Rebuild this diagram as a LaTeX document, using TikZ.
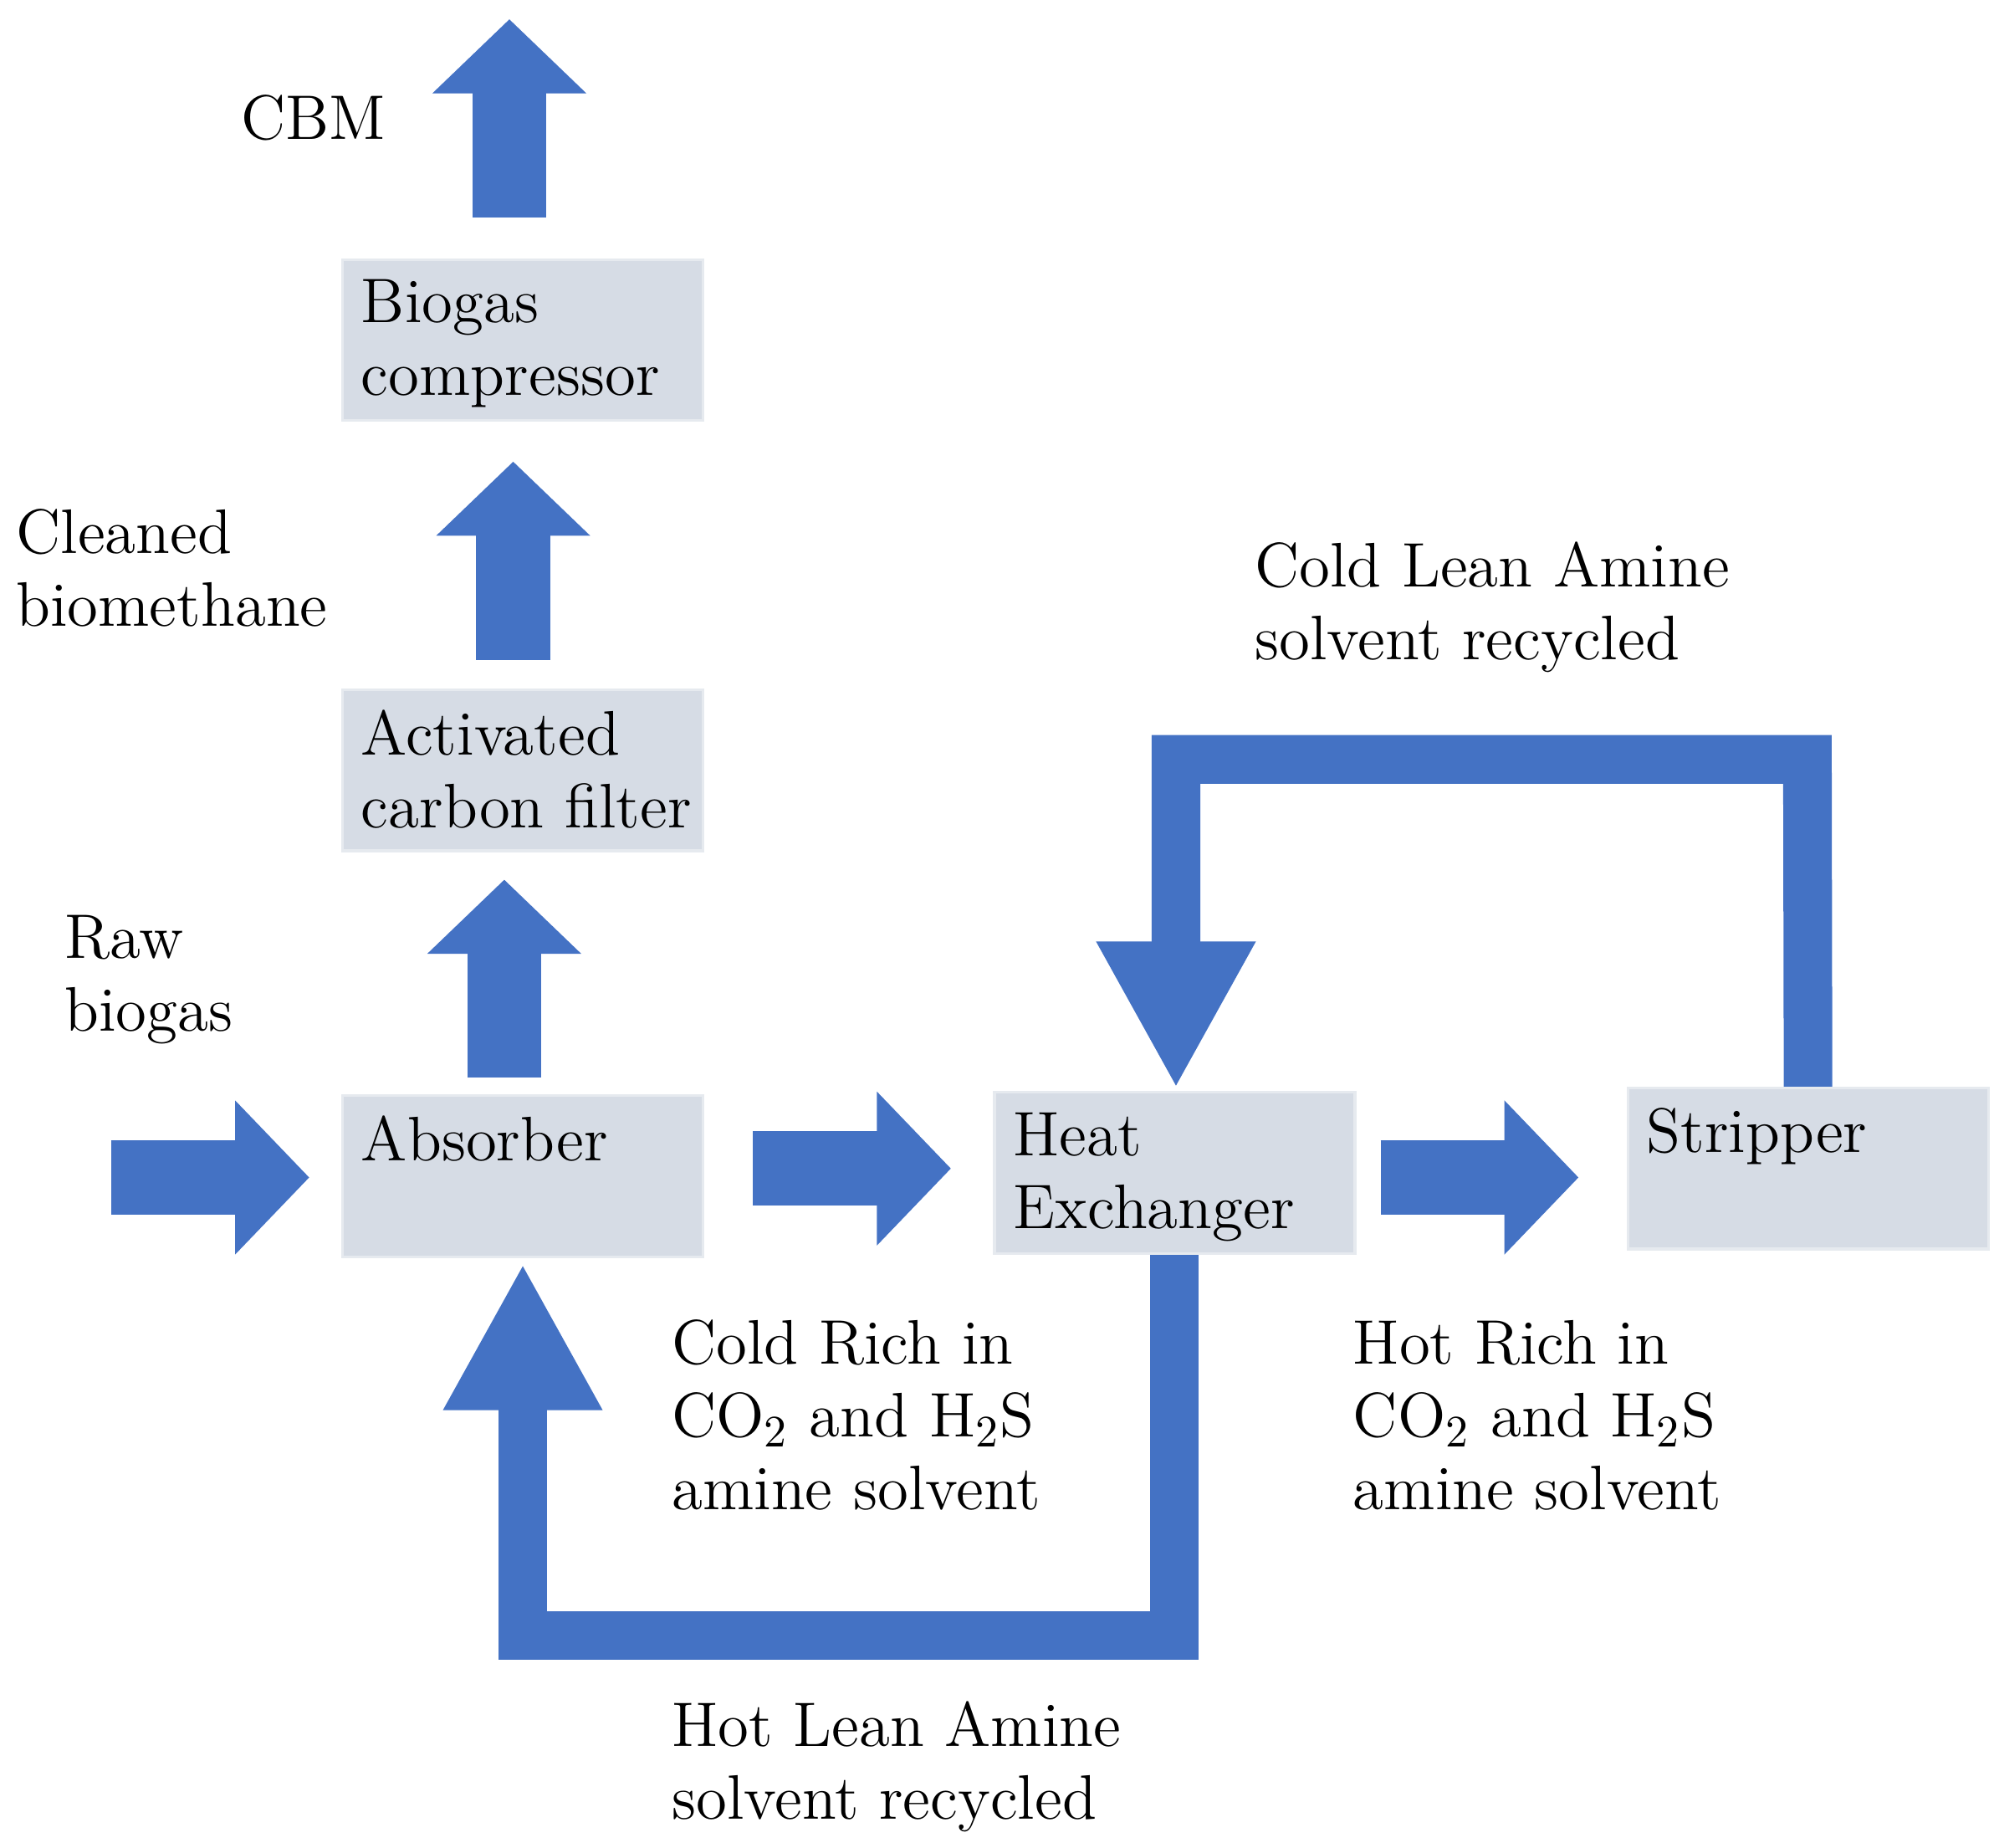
\documentclass[tikz,border=0pt]{standalone}
\usetikzlibrary{arrows.meta,positioning,calc}
\definecolor{flowblue}{HTML}{4472C4}
\definecolor{boxfill}{HTML}{D6DCE5}
\tikzset{
  unit/.style={draw=boxfill!60!white, line width=0.6pt, fill=boxfill, minimum width=2.82cm, minimum height=1.26cm, inner sep=0pt},
  utext/.style={anchor=north west, align=left, inner sep=0pt, font=\fontsize{14}{16.2}\selectfont},
  lbl/.style={anchor=west, align=left, inner sep=0pt, font=\fontsize{14}{16.2}\selectfont},
  fat/.style={draw=flowblue, line width=0.58cm, -{Triangle[width=11.7mm, length=5.8mm]}},
  pipe/.style={draw=flowblue, line width=0.38cm, line join=miter, -{Triangle[width=11.6mm, length=11.5mm]}}
}
\begin{document}
\begin{tikzpicture}[x=1cm,y=1cm]
  \useasboundingbox (0,0) rectangle (15.6,14.45);

  % Units
  \node[unit] (comp) at (4.09,11.79) {};
  \node[unit] (filt) at (4.09,8.425) {};
  \node[unit] (abs)  at (4.09,5.25) {};
  \node[unit] (hex)  at (9.19,5.275) {};
  \node[unit] (strp) at (14.145,5.31) {};
  \node[utext] at ($(comp.north west)+(0.15,-0.16)$) {Biogas\\compressor};
  \node[utext] at ($(filt.north west)+(0.15,-0.16)$) {Activated\\carbon filter};
  \node[utext] at ($(abs.north west)+(0.15,-0.16)$) {Absorber};
  \node[utext] at ($(hex.north west)+(0.15,-0.16)$) {Heat\\Exchanger};
  \node[utext] at ($(strp.north west)+(0.15,-0.16)$) {Stripper};

  % Free ends
  \coordinate (cbm0) at (3.985,12.75);  \coordinate (cbm1) at (3.985,14.30);
  \coordinate (cln0) at (4.015,9.29);   \coordinate (cln1) at (4.015,10.84);
  \coordinate (ab0)  at (3.945,6.02);   \coordinate (ab1)  at (3.945,7.57);
  \coordinate (raw0) at (0.87,5.24);    \coordinate (raw1) at (2.42,5.24);
  \coordinate (r20)  at (5.89,5.31);    \coordinate (r21)  at (7.44,5.31);
  \coordinate (r30)  at (10.80,5.24);   \coordinate (r31)  at (12.35,5.24);

  % Gas flows
  \draw[fat] (cbm0) -- (cbm1);
  \draw[fat] (cln0) -- (cln1);
  \draw[fat] (ab0) -- (ab1);
  \draw[fat] (raw0) -- (raw1);
  \draw[fat] (r20) -- (r21);
  \draw[fat] (r30) -- (r31);

  % Amine loops
  \draw[pipe] (hex.south) -- (9.19,1.66) -- (4.09,1.66) -- ($(abs.south)+(0,-0.04)$);
  \draw[pipe] (strp.north) -- (14.14,8.51) -- (9.20,8.51) -- ($(hex.north)+(0.01,0.02)$);

  % Labels
  \node[lbl] at (1.88,13.53) {CBM};
  \node[lbl] at (0.12,10.01) {Cleaned\\biomethane};
  \node[lbl] at (0.50,6.79) {Raw\\biogas};
  \node[lbl] at (9.81,9.70) {Cold Lean Amine\\solvent recycled};
  \node[lbl] at (5.25,3.38) {Cold Rich in\\CO$_2$ and H$_2$S\\amine solvent};
  \node[lbl] at (10.58,3.38) {Hot Rich in\\CO$_2$ and H$_2$S\\amine solvent};
  \node[lbl] at (5.25,0.63) {Hot Lean Amine\\solvent recycled};
\end{tikzpicture}
\end{document}
